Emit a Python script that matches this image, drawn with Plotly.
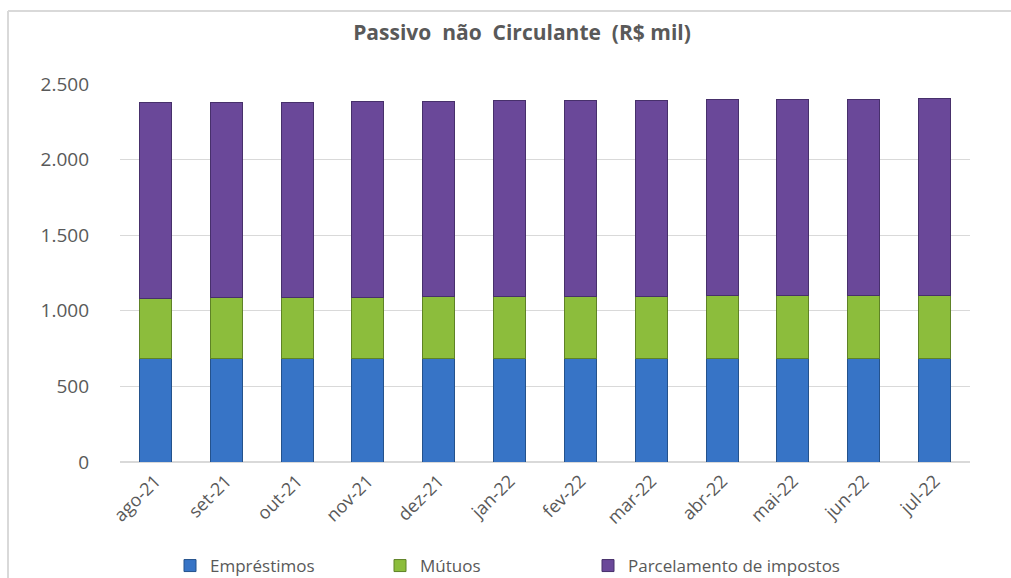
import plotly.graph_objects as go

months = ["ago-21", "set-21", "out-21", "nov-21", "dez-21", "jan-22",
          "fev-22", "mar-22", "abr-22", "mai-22", "jun-22", "jul-22"]
emprestimos = [686, 686, 685, 685, 684, 684, 684, 683, 683, 683, 682, 682]
mutuos = [398, 400, 403, 406, 408, 409, 411, 413, 415, 416, 418, 422]
parcelamento = [1291, 1291, 1292, 1293, 1294, 1295, 1296, 1297, 1298, 1299, 1300, 1302]

series = [
    ("Empréstimos", emprestimos, "#3774C6", "#24528C", "legend"),
    ("Mútuos", mutuos, "#8CBD3C", "#5E8226", "legend2"),
    ("Parcelamento de impostos", parcelamento, "#6A4899", "#47306B", "legend3"),
]

fig = go.Figure()
for name, vals, col, edge, lg in series:
    fig.add_trace(go.Bar(
        x=months, y=vals, name=name, legend=lg,
        marker=dict(color=col, line=dict(color=edge, width=1)),
        width=0.45,
    ))

font_fam = "'Open Sans', 'Noto Sans', sans-serif"
W, H = 1011, 578
L, R, T, B = 120, 41, 84, 116
pw, ph = W - L - R, H - T - B
leg_y = -(548 - (T + ph)) / ph


def leg(xpx):
    return dict(orientation="h", x=(xpx - L) / pw, xanchor="left", y=leg_y, yanchor="top",
                font=dict(family="'Open Sans', sans-serif", size=17, color="#595959"),
                itemwidth=30, bgcolor="rgba(0,0,0,0)")


fig.update_layout(
    barmode="stack",
    width=W, height=H,
    paper_bgcolor="white", plot_bgcolor="white",
    margin=dict(l=L, r=R, t=T, b=B, autoexpand=False),
    title=dict(text="<b>Passivo  não  Circulante  (R$ mil)</b>", x=522 / W, xanchor="center",
               y=1 - 33 / H, yanchor="middle",
               font=dict(family=font_fam, size=21, color="#595959")),
    font=dict(family=font_fam, color="#595959"),
    xaxis=dict(tickangle=-45, tickfont=dict(size=18, color="#595959"),
               showline=False, showgrid=False, ticks="", automargin=False,
               ticklabelstandoff=4),
    yaxis=dict(range=[0, 2500], dtick=500, tickformat=",d",
               tickfont=dict(size=19, color="#595959"),
               gridcolor="#D9D9D9", gridwidth=1, zeroline=True,
               zerolinecolor="#D9D9D9", ticks="", ticklabelstandoff=30,
               automargin=False),
    separators=",.",
    legend=leg(170),
    legend2=leg(380),
    legend3=leg(588),
    showlegend=True,
)
fig.add_shape(type="line", xref="paper", yref="paper",
              x0=-(L - 8) / pw, x1=-(L - 8) / pw, y0=-(B + 5) / ph, y1=1 + (T - 11) / ph,
              line=dict(color="#D9D9D9", width=2))
fig.add_shape(type="line", xref="paper", yref="paper",
              x0=-(L - 8) / pw, x1=1 + (R + 5) / pw, y0=1 + (T - 11) / ph, y1=1 + (T - 11) / ph,
              line=dict(color="#D9D9D9", width=2))

fig.write_html("out.html", config={"displayModeBar": False},
               post_script="document.body.style.margin='0px';document.body.style.overflow='hidden';")
